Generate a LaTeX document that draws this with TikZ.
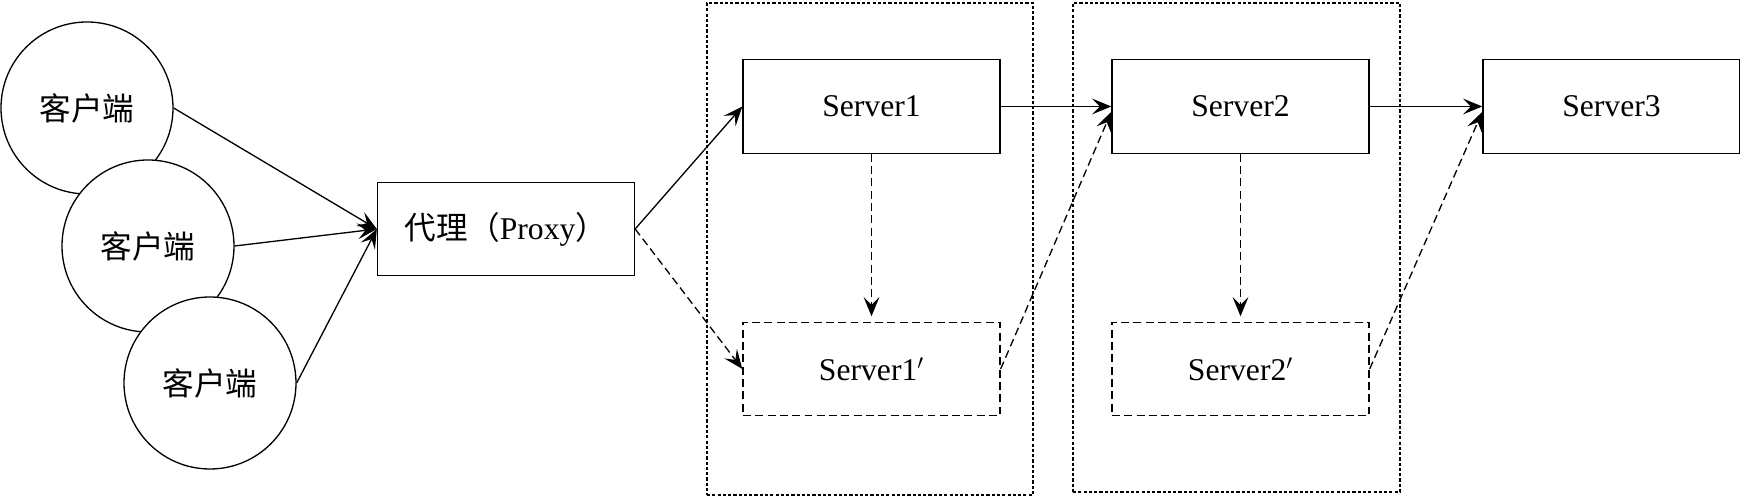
\documentclass[tikz,border=0pt]{standalone}
\usepackage{fontspec}
\setmainfont{Liberation Serif}
\newfontfamily\cjk{Noto Sans CJK SC}
\usepackage{tikz}
\usetikzlibrary{arrows.meta}
\usetikzlibrary{positioning}

\begin{document}
\begin{tikzpicture}[
  line width=0.75pt,
  every node/.style={font=\fontsize{18}{22}\selectfont},
  client/.style={circle,draw,fill=white,minimum size=3.44cm,inner sep=0pt},
  srv/.style={rectangle,draw,minimum width=5.14cm,minimum height=1.87cm,inner sep=0pt},
  backup/.style={srv,dash pattern=on 4.5pt off 2.5pt},
  group/.style={rectangle,draw,dash pattern=on 1.8pt off 1.2pt,inner sep=0pt},
  link/.style={-{Stealth[length=11pt,width=9pt,inset=4.5pt]}},
  spare/.style={link,dash pattern=on 4.5pt off 2.5pt}
]
  \useasboundingbox (0,0) rectangle (34.8,9.94);

  \node[group,minimum width=6.52cm,minimum height=9.84cm] (g1) at (17.40,4.96) {};
  \node[group,minimum width=6.54cm,minimum height=9.78cm] (g2) at (24.73,4.99) {};

  \node[client] (c1) at (1.74,7.78) {\cjk 客户端};
  \node[client] (c2) at (2.96,5.02) {\cjk 客户端};
  \node[client] (c3) at (4.20,2.28) {\cjk 客户端};

  \node[srv]    (proxy) at (10.12,5.36) {{\cjk 代理（}Proxy{\cjk ）}};
  \node[srv]    (s1)    at (17.43,7.81) {Server1};
  \node[backup] (s1b)   at (17.43,2.56) {Server1$'$};
  \node[srv]    (s2)    at (24.81,7.81) {Server2};
  \node[backup] (s2b)   at (24.81,2.56) {Server2$'$};
  \node[srv]    (s3)    at (32.23,7.81) {Server3};

  \draw[link] (c1.east) -- (proxy.west);
  \draw[link] (c2.east) -- (proxy.west);
  \draw[link] (c3.east) -- (proxy.west);

  \draw[link]  (proxy.east) -- (s1.west);
  \draw[spare] (proxy.east) -- (s1b.west);
  \draw[spare,shorten >=3pt] (s1.south) -- (s1b.north);
  \draw[link]  (s1.east) -- (s2.west);
  \draw[spare] (s1b.east) -- ([yshift=-3pt]s2.west);

  \draw[spare,shorten >=3pt] (s2.south) -- (s2b.north);
  \draw[link]  (s2.east) -- (s3.west);
  \draw[spare] (s2b.east) -- ([yshift=-3pt]s3.west);
\end{tikzpicture}
\end{document}
